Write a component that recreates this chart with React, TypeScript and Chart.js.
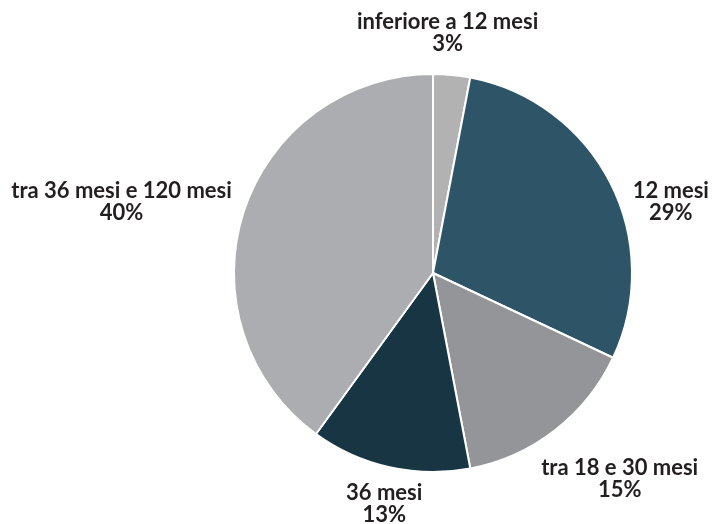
import React, { useEffect, useRef } from "react";
import { Chart, registerables } from "chart.js";

Chart.register(...registerables);

const categories = [
  "inferiore a 12 mesi",
  "12 mesi",
  "tra 18 e 30 mesi",
  "36 mesi",
  "tra 36 mesi e 120 mesi",
];
const values = [3, 29, 15, 13, 40];
const percentLabels = ["3%", "29%", "15%", "13%", "40%"];
const colors = ["#b1b2b1", "#2e5467", "#939598", "#183543", "#abadb1"];

const FONT = "bold 22px Lato, 'Noto Sans', sans-serif";
const LINE_H = 22;
// small manual nudges of the outside labels (layout only)
const LABEL_NUDGE: [number, number][] = [
  [-14, -6],
  [14, 36],
  [8, 20],
  [6, 2],
  [-4, 2],
];

const outsideLabels = {
  id: "outsideLabels",
  afterDatasetsDraw(chart: any) {
    const ctx = chart.ctx;
    const meta = chart.getDatasetMeta(0);
    ctx.save();
    ctx.font = FONT;
    ctx.fillStyle = "#231f20";
    ctx.textAlign = "center";
    ctx.textBaseline = "middle";
    meta.data.forEach((arc: any, i: number) => {
      const { x, y, startAngle, endAngle, outerRadius } = arc.getProps(
        ["x", "y", "startAngle", "endAngle", "outerRadius"],
        true
      );
      const mid = (startAngle + endAngle) / 2;
      const lines = [categories[i], percentLabels[i]];
      const w = Math.max(...lines.map((l) => ctx.measureText(l).width));
      const h = LINE_H * lines.length;
      const r = outerRadius + 14;
      const ax = x + Math.cos(mid) * r;
      const ay = y + Math.sin(mid) * r;
      const [nx, ny] = LABEL_NUDGE[i] || [0, 0];
      const cx = ax + Math.cos(mid) * (w / 2) + nx;
      const cy = ay + Math.sin(mid) * (h / 2) + ny;
      lines.forEach((l, j) => {
        ctx.fillText(l, cx, cy - h / 2 + LINE_H * (j + 0.5));
      });
    });
    ctx.restore();
  },
};

export default function App() {
  const ref = useRef<HTMLCanvasElement>(null);
  useEffect(() => {
    document.body.style.margin = "0";
    const chart = new Chart(ref.current!, {
      type: "pie",
      data: {
        labels: categories,
        datasets: [
          {
            data: values,
            backgroundColor: colors,
            borderColor: "#ffffff",
            borderWidth: 2,
            hoverOffset: 0,
          },
        ],
      },
      options: {
        animation: false,
        responsive: false,
        layout: { padding: { top: 73, bottom: 51, left: 233, right: 83 } },
        plugins: {
          legend: { display: false },
          tooltip: { enabled: false },
        },
      },
      plugins: [outsideLabels],
    });
    return () => chart.destroy();
  }, []);
  return (
    <div style={{ width: 716, height: 524 }}>
      <canvas ref={ref} width={716} height={524} style={{ display: "block" }} />
    </div>
  );
}
